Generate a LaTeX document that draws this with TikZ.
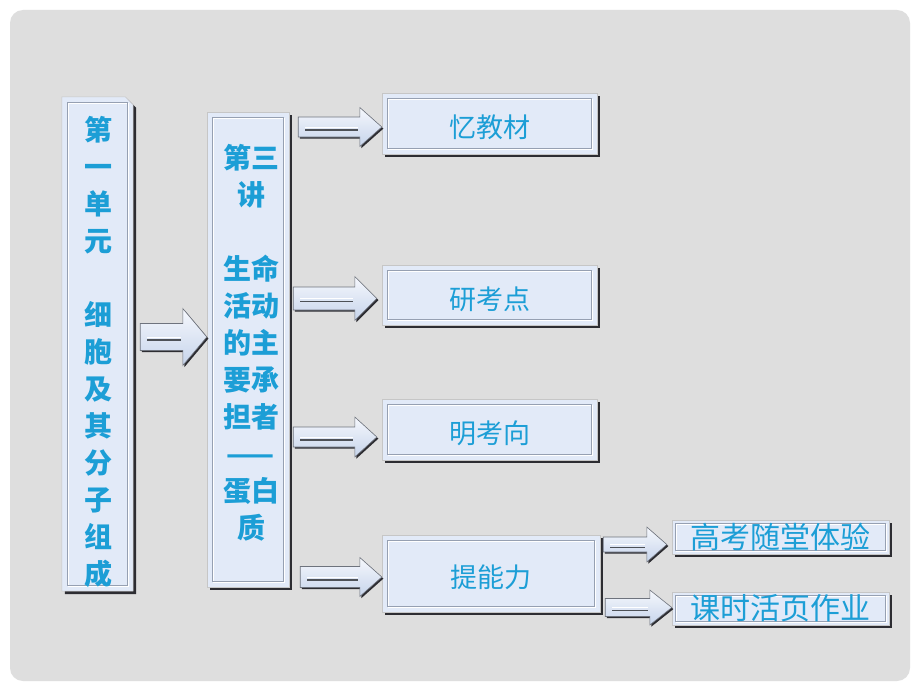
\documentclass[tikz,border=0pt]{standalone}
\usepackage{fontspec}
\newfontfamily\cjk{Noto Sans CJK SC}
\usetikzlibrary{calc}
\definecolor{bgc}{RGB}{222,222,222}
\definecolor{txt}{RGB}{28,158,214}
\definecolor{boxfill}{RGB}{226,234,248}
\definecolor{shadowc}{RGB}{45,45,50}
\definecolor{innerc}{RGB}{150,160,178}
\definecolor{arrtop}{RGB}{246,248,253}
\definecolor{arrbot}{RGB}{198,212,235}
\definecolor{arredge}{RGB}{110,115,125}
\pgfdeclarelayer{back}\pgfdeclarelayer{mid}\pgfsetlayers{back,mid,main}
\tikzset{
  boxnode/.style={rectangle, inner sep=0pt, font=\cjk, text=txt},
  coltext/.style={inner sep=0pt, align=center, text=txt, font=\cjk\bfseries\fontsize{28}{37}\selectfont},
  bigtext/.style={font=\cjk\fontsize{27}{27}\selectfont},
  smalltext/.style={font=\cjk\fontsize{30}{30}\selectfont},
}
\newcommand\lowtext[1]{\raisebox{-4pt}[\height][\depth]{#1}}
\newcommand\myinnerframe[2]{%
  \draw[white,line width=0.9pt] ([shift={(#2pt+1pt,-#2pt-1pt)}]#1.north west) rectangle ([shift={(-#2pt+1pt,#2pt-1pt)}]#1.south east);
  \draw[innerc,line width=0.7pt] ([shift={(#2pt,-#2pt)}]#1.north west) rectangle ([shift={(-#2pt,#2pt)}]#1.south east);
}
\newcommand\myboxframe[2]{%
  \fill[shadowc] ([shift={(3pt,-3pt)}]#1.north west) rectangle ([shift={(3pt,-3pt)}]#1.south east);
  \fill[boxfill,draw=gray!45,line width=0.5pt] (#1.north west) rectangle (#1.south east);
  \myinnerframe{#1}{#2}
}
\newcommand\mybarrow[5]{%
  \fill[shadowc,transform canvas={shift={(1.6pt,-1.6pt)}}] let \p1=(#1),\p2=(#2) in
    (\x1,\y1+#3pt) -- (\x2-#5pt,\y1+#3pt) -- (\x2-#5pt,\y1+#4pt) -- (\x2,\y1) -- (\x2-#5pt,\y1-#4pt) -- (\x2-#5pt,\y1-#3pt) -- (\x1,\y1-#3pt) -- cycle;
  \shade[top color=arrtop,bottom color=arrbot,draw=arredge,line width=0.6pt] let \p1=(#1),\p2=(#2) in
    (\x1,\y1+#3pt) -- (\x2-#5pt,\y1+#3pt) -- (\x2-#5pt,\y1+#4pt) -- (\x2,\y1) -- (\x2-#5pt,\y1-#4pt) -- (\x2-#5pt,\y1-#3pt) -- (\x1,\y1-#3pt) -- cycle;
  \draw[white,line width=0.8pt] let \p1=(#1),\p2=(#2) in (\x1+7pt,\y1) -- (\x2-#5pt-2pt,\y1);
  \draw[arredge!70!black,line width=1.1pt] let \p1=(#1),\p2=(#2) in (\x1+7pt,\y1-3pt) -- (\x2-#5pt-2pt,\y1-3pt);
}
\begin{document}
\begin{tikzpicture}[x=1pt,y=-1pt]
\useasboundingbox (0,0) rectangle (920,690);
\begin{pgfonlayer}{back}
  \fill[white] (0,0) rectangle (920,690);
  \fill[bgc,rounded corners=13pt] (10,10) rectangle (910,681);
\end{pgfonlayer}

% box nodes
\node[boxnode, minimum width=71pt, minimum height=494pt] (b1) at (97.5,344) {};
\node[boxnode, minimum width=82pt, minimum height=475pt] (b2) at (248,349.5) {};
\node[boxnode, bigtext, minimum width=215pt, minimum height=61pt] (t1) at (489.5,123.5) {\lowtext{忆教材}};
\node[boxnode, bigtext, minimum width=215pt, minimum height=60pt] (t2) at (489.5,295) {\lowtext{研考点}};
\node[boxnode, bigtext, minimum width=215pt, minimum height=61pt] (t3) at (489.5,429.5) {\lowtext{明考向}};
\node[boxnode, bigtext, minimum width=218pt, minimum height=77pt] (t4) at (491,573.5) {\lowtext{提能力}};
\node[boxnode, smalltext, minimum width=217pt, minimum height=34pt] (s1) at (780.5,537) {高考随堂体验};
\node[boxnode, smalltext, minimum width=217pt, minimum height=33pt] (s2) at (780.5,608.5) {课时活页作业};

\node[coltext] (b1t) at (98,352) {第\\一\\单\\元\\[37pt]细\\胞\\及\\其\\分\\子\\组\\成};
\node[coltext] (b2t) at (251,342.5) {第三\\讲\\[37pt]生命\\活动\\的主\\要承\\担者\\——\\蛋白\\质};

\begin{pgfonlayer}{mid}
  % box 1 with cut corner
  \fill[shadowc] ([shift={(3pt,-3pt)}]b1.north west) -- ([shift={(-5pt,-3pt)}]b1.north east) -- ([shift={(3pt,-11pt)}]b1.north east) -- ([shift={(3pt,-3pt)}]b1.south east) -- ([shift={(3pt,-3pt)}]b1.south west) -- cycle;
  \fill[boxfill,draw=gray!45,line width=0.5pt] (b1.north west) -- ([xshift=-8pt]b1.north east) -- ([yshift=-8pt]b1.north east) -- (b1.south east) -- (b1.south west) -- cycle;
  \myinnerframe{b1}{6}
  \myboxframe{b2}{6}
  \myboxframe{t1}{6}
  \myboxframe{t2}{6}
  \myboxframe{t3}{6}
  \myboxframe{t4}{6}
  \myboxframe{s1}{4}
  \myboxframe{s2}{4}

  % arrow rows
  \coordinate (m1) at (0,337);
  \coordinate (m2) at (0,127);
  \coordinate (m3) at (0,298.5);
  \coordinate (m4) at (0,437);
  \coordinate (m5) at (0,577);
  \coordinate (m6) at (0,544.5);
  \coordinate (m7) at (0,607.5);

  \coordinate (a1s) at ($(b1.east |- m1)+(7pt,0)$);
  \coordinate (a1e) at (b2.west |- m1);
  \coordinate (a2s) at ($(b2.east |- m2)+(9pt,0)$);
  \coordinate (a2e) at (t1.west |- m2);
  \coordinate (a3s) at ($(b2.east |- m3)+(4pt,0)$);
  \coordinate (a3e) at ($(t2.west |- m3)+(-5pt,0)$);
  \coordinate (a4s) at ($(b2.east |- m4)+(4pt,0)$);
  \coordinate (a4e) at ($(t3.west |- m4)+(-5pt,0)$);
  \coordinate (a5s) at ($(b2.east |- m5)+(11pt,0)$);
  \coordinate (a5e) at (t4.west |- m5);
  \coordinate (a6s) at ($(t4.east |- m6)+(3pt,0)$);
  \coordinate (a6e) at ($(s1.west |- m6)+(-5pt,0)$);
  \coordinate (a7s) at ($(t4.east |- m7)+(5pt,0)$);
  \coordinate (a7e) at (s2.west |- m7);

  \mybarrow{a1s}{a1e}{13.5}{28.5}{24}
  \mybarrow{a2s}{a2e}{10}{19.5}{22}
  \mybarrow{a3s}{a3e}{11.5}{22}{22}
  \mybarrow{a4s}{a4e}{10}{20}{22}
  \mybarrow{a5s}{a5e}{10.5}{19.5}{22}
  \mybarrow{a6s}{a6e}{7.5}{17.5}{20}
  \mybarrow{a7s}{a7e}{9}{17.5}{22}
\end{pgfonlayer}
\end{tikzpicture}
\end{document}
